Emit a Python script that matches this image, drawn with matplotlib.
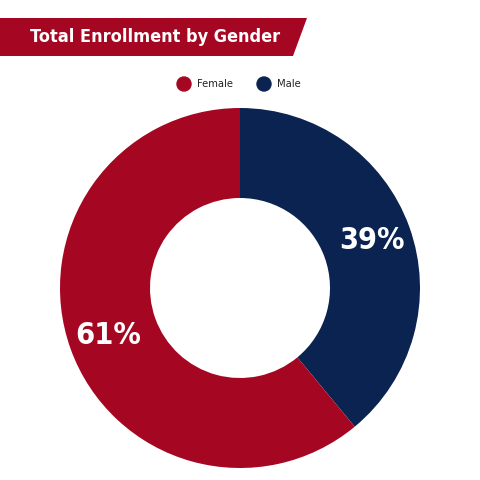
import numpy as np
import matplotlib.pyplot as plt
from matplotlib.patches import Polygon

labels = ['Male', 'Female']
shares = [39, 61]
colors = ['#0B2350', '#A50621']
legend_labels = ['Female', 'Male']
legend_colors = ['#A50621', '#0B2350']

FONT = dict(family=['DejaVu Sans'], fontstretch='condensed')

fig = plt.figure(figsize=(4.8, 4.8), dpi=100)
fig.patch.set_facecolor('white')

# title banner with slanted right edge
banner = Polygon([[0, 1 - 18/480], [307/480, 1 - 18/480], [293/480, 1 - 56/480], [0, 1 - 56/480]],
                 closed=True, transform=fig.transFigure, facecolor='#A50621', edgecolor='none')
fig.patches.append(banner)
fig.text(30/480, 1 - 37/480, 'Total Enrollment by Gender', color='white', fontsize=13,
         fontweight='bold', va='center', ha='left', **FONT)

# legend
for i, (lab, col) in enumerate(zip(legend_labels, legend_colors)):
    x0 = [184, 264][i] / 480
    fig.patches.append(plt.Circle((x0, 1 - 84/480), 7/480, transform=fig.transFigure, color=col))
    fig.text(x0 + 13/480, 1 - 84/480, lab, fontsize=8, va='center', ha='left',
             color='#222222', **FONT)

ax = fig.add_axes([60/480, 1 - 468/480, 360/480, 360/480])
wedges, _ = ax.pie(shares, colors=colors, startangle=90, counterclock=False, radius=1,
                   wedgeprops=dict(width=0.5, edgecolor='none'))
ax.set_xlim(-1, 1)
ax.set_ylim(-1, 1)
ax.set_aspect('equal')

for w, s in zip(wedges, shares):
    ang = np.deg2rad((w.theta1 + w.theta2) / 2)
    r = 0.78
    ax.text(r * np.cos(ang), r * np.sin(ang), f'{s}%', color='white', fontsize=22,
            fontweight='bold', ha='center', va='center', **FONT)

fig.savefig('out.png', dpi=100)
